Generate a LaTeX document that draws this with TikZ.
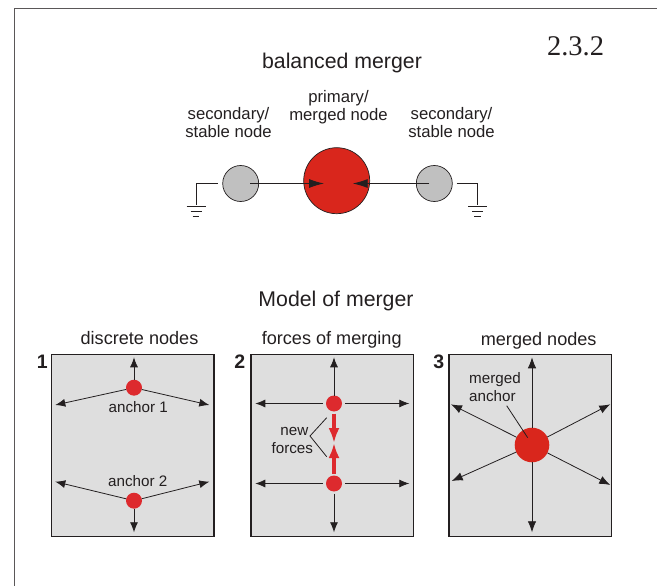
\documentclass[tikz,border=0pt]{standalone}
\usepackage{fontspec}
\setmainfont{Liberation Sans}
\newfontfamily\serifnum{Liberation Serif}
\usetikzlibrary{arrows.meta}
\definecolor{ink}{HTML}{231F20}
\definecolor{mergered}{HTML}{D9261C}
\definecolor{anchorred}{HTML}{DD2A2E}
\definecolor{nodegray}{HTML}{C0C0C0}
\definecolor{panelgray}{HTML}{DEDEDE}
\tikzset{
  x=1pt,y=-1pt,
  txt/.style={text=ink,inner sep=0pt,outer sep=0pt,align=center},
  title/.style={txt,font=\fontsize{21.3}{24}\selectfont},
  sub/.style={txt,font=\fontsize{18.1}{21}\selectfont},
  lab/.style={txt,font=\fontsize{16.7}{18.3}\selectfont},
  small/.style={txt,font=\fontsize{15.2}{17.5}\selectfont},
  num/.style={txt,font=\fontsize{19.5}{22}\selectfont\bfseries},
  panel/.style={draw=ink,line width=1.3pt,fill=panelgray,minimum width=162.5pt,minimum height=182.5pt,inner sep=0pt,outer sep=0pt},
  anchorpt/.style={circle,fill=anchorred,minimum size=16pt,inner sep=0pt,outer sep=0pt},
  arr/.style={draw=ink,line width=.8pt,-{Latex[length=10pt,width=8pt]}},
  bigarr/.style={draw=ink,line width=.9pt,-{Latex[length=15pt,width=9pt]}},
  redarr/.style={draw=anchorred,line width=4pt,-{Latex[length=15pt,width=11pt]}},
  wire/.style={draw=ink,line width=.8pt},
}
\begin{document}
\begin{tikzpicture}
\useasboundingbox (0,0) rectangle (657,586);
% page frame
\coordinate (fa) at (14,586); \coordinate (fb) at (14,8); \coordinate (fc) at (657,8);
\draw[draw=ink!75,line width=.9pt] (fa) -- (fb) -- (fc);
\node[txt,font=\fontsize{28.5}{30}\selectfont\serifnum] (sec) at (575.5,46) {2.3.2};
% top diagram
\node[title] (t1) at (342,62.5) {balanced merger};
\node[lab] (ls) at (228.5,122.5) {secondary/\\stable node};
\node[lab] (lp) at (338.5,107) {primary/\\merged node};
\node[lab] (rs) at (451.5,122.5) {secondary/\\stable node};
\node[circle,draw=ink,line width=.7pt,fill=nodegray,minimum size=36pt,inner sep=0pt,outer sep=0pt] (gl) at (240.7,183.5) {};
\node[circle,draw=ink,line width=.7pt,fill=nodegray,minimum size=36pt,inner sep=0pt,outer sep=0pt] (gr) at (434.3,183.5) {};
\node[circle,draw=ink,line width=.7pt,fill=mergered,minimum size=66pt,inner sep=0pt,outer sep=0pt] (pm) at (336.7,180.7) {};
\coordinate (tipl) at (324,183.5); \coordinate (tipr) at (352.7,183.5);
\draw[bigarr,shorten <=9.5pt] (gl.center) -- (tipl);
\draw[bigarr,shorten <=5pt] (gr.center) -- (tipr);
\coordinate (cl) at (196,183.5); \coordinate (el) at (196,205);
\coordinate (cr) at (477.7,183.5); \coordinate (er) at (477.7,205);
\coordinate (sl) at (217.7,183.5); \coordinate (sr) at (456.7,183.5);
\draw[wire] (sl) -- (cl) -- (el);
\draw[wire] (sr) -- (cr) -- (er);
\foreach \c in {el,er}{
  \draw[wire] ([xshift=-9.5pt,yshift=-1pt]\c) -- ([xshift=9.5pt,yshift=-1pt]\c);
  \draw[wire] ([xshift=-5.5pt,yshift=-6.3pt]\c) -- ([xshift=5.5pt,yshift=-6.3pt]\c);
  \draw[wire] ([xshift=-3.3pt,yshift=-11.7pt]\c) -- ([xshift=3.3pt,yshift=-11.7pt]\c);
}
% lower title
\node[title] (t2) at (336,300.5) {Model of merger};
% panels
\node[panel] (p1) at (132.8,445.5) {};
\node[panel] (p2) at (332.3,445.5) {};
\node[panel] (p3) at (530.3,445.5) {};
\node[sub] (h1) at (139.5,338) {discrete nodes};
\node[sub] (h2) at (331.7,339.5) {forces of merging};
\node[sub] (h3) at (538.7,340.5) {merged nodes};
\node[num] (n1) at (42.3,362) {1};
\node[num] (n2) at (239.7,362) {2};
\node[num] (n3) at (438.7,362) {3};
% panel 1
\node[anchorpt] (a1) at (134,387.7) {};
\node[anchorpt] (a2) at (134,500.7) {};
\coordinate (a1u) at (134,357.3); \coordinate (a1l) at (55.3,405); \coordinate (a1r) at (209.3,405);
\coordinate (a2d) at (134,532.3); \coordinate (a2l) at (55.3,481.7); \coordinate (a2r) at (209.3,481.7);
\foreach \e in {a1u,a1l,a1r}{\draw[arr] (a1) -- (\e);}
\foreach \e in {a2d,a2l,a2r}{\draw[arr] (a2) -- (\e);}
\node[small] (l1) at (138.3,407.5) {anchor 1};
\node[small] (l2) at (137.7,481) {anchor 2};
% panel 2
\node[anchorpt] (b1) at (334,403.5) {};
\node[anchorpt] (b2) at (334,483.5) {};
\coordinate (b1u) at (334,357.3); \coordinate (b1l) at (255.3,403.5); \coordinate (b1r) at (409.3,403.5);
\coordinate (b2d) at (334,532.3); \coordinate (b2l) at (255.3,483.5); \coordinate (b2r) at (409.3,483.5);
\draw[arr] (b1) -- (b1u);
\draw[arr,shorten <=2pt] (b2) -- (b2d);
\foreach \e in {b1l,b1r}{\draw[arr,shorten <=3pt] (b1) -- (\e);}
\foreach \e in {b2l,b2r}{\draw[arr,shorten <=3pt] (b2) -- (\e);}
\coordinate (rd) at (334,443); \coordinate (ru) at (334,443);
\draw[redarr,shorten <=2pt] (b1) -- (rd);
\draw[redarr,shorten <=2pt] (b2) -- (ru);
\node[small] (nw) at (294.3,431.5) {new};
\node[small] (fo) at (292.3,448.5) {forces};
\coordinate (ba) at (326.7,417.7); \coordinate (bb) at (310,436); \coordinate (bc) at (326.7,456.7);
\draw[wire] (ba) -- (bb) -- (bc);
% panel 3
\node[circle,fill=mergered,minimum size=34.6pt,inner sep=0pt,outer sep=0pt] (m) at (532,445) {};
\coordinate (mu) at (532,357.3); \coordinate (md) at (532,532.3);
\coordinate (mnw) at (451,404.3); \coordinate (mne) at (610.3,404.3);
\coordinate (msw) at (451.7,481); \coordinate (mse) at (610.3,485);
\foreach \e in {mu,md,mnw,mne,msw,mse}{\draw[arr,-{Latex[length=11pt,width=8.5pt]}] (m) -- (\e);}
\node[small,align=left] (ml) at (495,387) {merged\\anchor};
\coordinate (mls) at (506.7,405.7); \coordinate (mle) at (527.7,437.7);
\draw[wire] (mls) -- (mle);
\end{tikzpicture}
\end{document}
